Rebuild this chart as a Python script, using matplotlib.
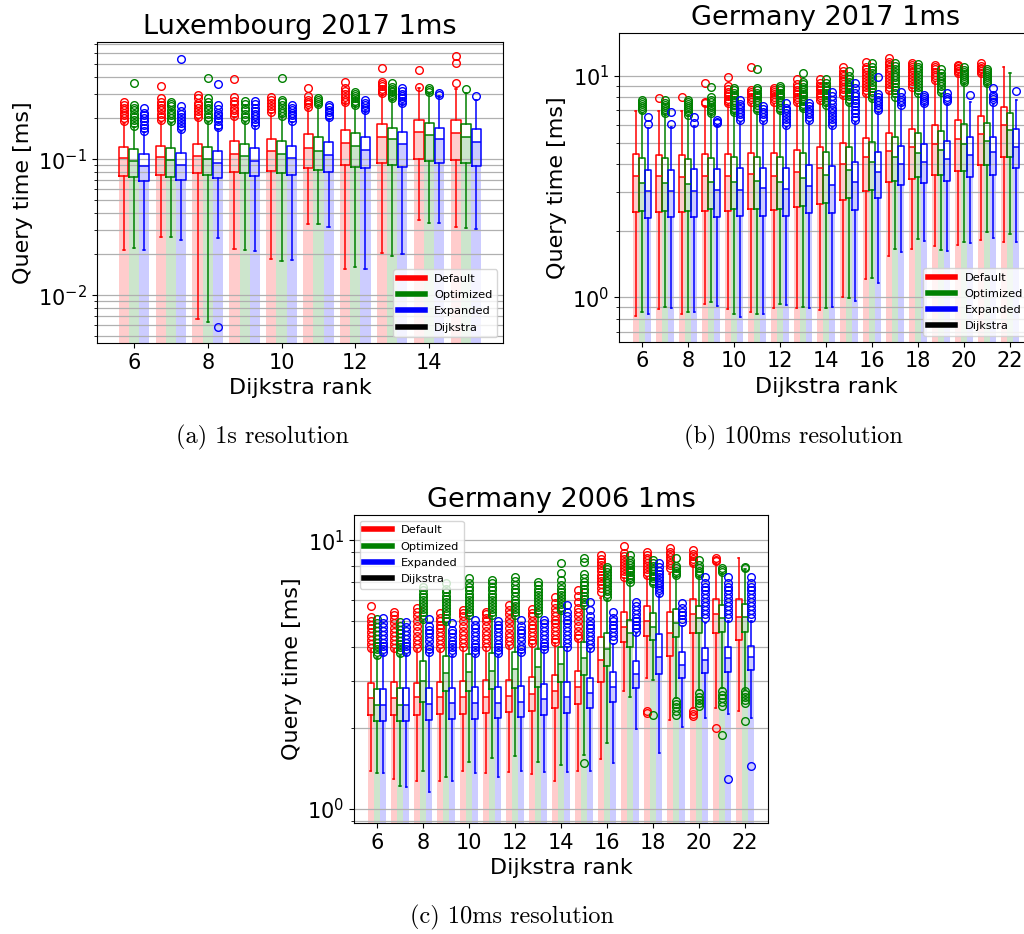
import matplotlib.pyplot as plt
from matplotlib.lines import Line2D
from matplotlib.ticker import NullFormatter

SERIES = ["Default", "Optimized", "Expanded", "Dijkstra"]
COLORS = ["red", "green", "blue", "black"]

# ---------------- Luxembourg 2017 1ms (ranks 6..15) ----------------
lux_ranks = list(range(6, 16))
# rows: Default, Optimized, Expanded
lux_lo = [
    [0.0215, 0.0267, 0.00665, 0.0218, 0.0184, 0.0334, 0.0156, 0.0206, 0.0358, 0.0320],
    [0.0224, 0.0266, 0.0064, 0.0215, 0.0179, 0.0334, 0.0161, 0.0195, 0.0338, 0.0314],
    [0.0215, 0.0255, 0.0262, 0.0211, 0.0182, 0.0320, 0.0156, 0.0201, 0.0338, 0.0305],
]
lux_q1 = [
    [0.0758, 0.0767, 0.0789, 0.0812, 0.0816, 0.0858, 0.0903, 0.0939, 0.1005, 0.0993],
    [0.0737, 0.0745, 0.0767, 0.0789, 0.0797, 0.0834, 0.0883, 0.0913, 0.0966, 0.0939],
    [0.0696, 0.0708, 0.0733, 0.0758, 0.0767, 0.0806, 0.0858, 0.0883, 0.0934, 0.0898],
]
lux_med = [
    [0.1016, 0.1034, 0.1051, 0.1094, 0.1144, 0.1204, 0.1318, 0.1467, 0.158, 0.155],
    [0.0972, 0.0983, 0.101, 0.1051, 0.1094, 0.115, 0.126, 0.140, 0.150, 0.146],
    [0.0898, 0.0913, 0.0934, 0.0977, 0.1022, 0.1075, 0.1177, 0.1296, 0.140, 0.135],
]
lux_q3 = [
    [0.124, 0.126, 0.130, 0.1355, 0.1418, 0.1527, 0.165, 0.181, 0.1945, 0.1945],
    [0.118, 0.1204, 0.124, 0.1288, 0.1355, 0.145, 0.157, 0.171, 0.184, 0.183],
    [0.1088, 0.1106, 0.1144, 0.1204, 0.1253, 0.134, 0.145, 0.159, 0.169, 0.166],
]
lux_hi = [
    [0.186, 0.189, 0.197, 0.2035, 0.220, 0.2357, 0.261, 0.297, 0.332, 0.327],
    [0.174, 0.184, 0.189, 0.189, 0.206, 0.245, 0.246, 0.275, 0.309, 0.305],
    [0.159, 0.162, 0.168, 0.176, 0.188, 0.197, 0.2265, 0.253, 0.292, 0.273],
]
lux_fliers = [
    [[0.19, 0.20, 0.21, 0.22, 0.23, 0.24, 0.25, 0.265],
     [0.195, 0.205, 0.215, 0.23, 0.24, 0.25, 0.265, 0.28, 0.346],
     [0.206, 0.215, 0.225, 0.24, 0.25, 0.26, 0.28, 0.297],
     [0.208, 0.22, 0.23, 0.24, 0.255, 0.27, 0.289, 0.387],
     [0.224, 0.235, 0.245, 0.26, 0.275, 0.289],
     [0.243, 0.255, 0.265, 0.275, 0.292, 0.336],
     [0.265, 0.275, 0.285, 0.30, 0.315, 0.332, 0.372],
     [0.306, 0.318, 0.33, 0.345, 0.355, 0.372, 0.467],
     [0.342, 0.453],
     [0.362, 0.508, 0.575]],
    [[0.176, 0.185, 0.195, 0.205, 0.215, 0.23, 0.24, 0.25, 0.362],
     [0.19, 0.20, 0.21, 0.22, 0.23, 0.245, 0.255, 0.265],
     [0.195, 0.205, 0.215, 0.23, 0.24, 0.25, 0.265, 0.28, 0.394],
     [0.195, 0.205, 0.215, 0.23, 0.24, 0.255, 0.268],
     [0.208, 0.218, 0.228, 0.24, 0.25, 0.262, 0.273, 0.398],
     [0.253, 0.265, 0.272, 0.28],
     [0.25, 0.26, 0.27, 0.28, 0.29, 0.30, 0.314],
     [0.28, 0.29, 0.30, 0.31, 0.32, 0.33, 0.34, 0.362],
     [0.314, 0.322, 0.332],
     [0.327]],
    [[0.162, 0.17, 0.18, 0.19, 0.20, 0.21, 0.22, 0.237],
     [0.166, 0.175, 0.185, 0.195, 0.205, 0.215, 0.225, 0.245, 0.543],
     [0.00581, 0.172, 0.18, 0.19, 0.20, 0.21, 0.22, 0.235, 0.25, 0.358],
     [0.179, 0.188, 0.197, 0.207, 0.217, 0.228, 0.24, 0.255, 0.268],
     [0.192, 0.20, 0.21, 0.22, 0.23, 0.24, 0.25],
     [0.2035, 0.212, 0.222, 0.232, 0.242, 0.25],
     [0.231, 0.24, 0.25, 0.26, 0.275],
     [0.258, 0.268, 0.28, 0.29, 0.30, 0.315, 0.332],
     [0.297, 0.306],
     [0.292]],
]

# ---------------- Germany 2017 1ms (ranks 6..22) ----------------
ger17_ranks = list(range(6, 23))
ger17_lo = [
    [0.826, 0.883, 0.841, 0.930, 0.883, 0.862, 0.892, 0.898, 0.877, 1.00, 1.21, 1.53, 1.66, 1.71, 1.72, 1.82, 1.77],
    [0.862, 0.901, 0.862, 0.956, 0.838, 0.838, 0.933, 0.907, 0.892, 0.993, 1.22, 1.65, 1.84, 1.64, 1.78, 1.97, 1.93],
    [0.838, 0.892, 0.856, 0.917, 0.818, 0.838, 0.920, 0.892, 0.901, 0.966, 1.16, 1.60, 1.80, 1.61, 1.75, 1.85, 1.78],
]
ger17_q1 = [
    [2.44, 2.44, 2.44, 2.46, 2.45, 2.50, 2.48, 2.55, 2.65, 2.74, 3.02, 3.31, 3.42, 3.56, 3.72, 3.98, 4.29],
    [2.46, 2.46, 2.46, 2.50, 2.50, 2.50, 2.50, 2.59, 2.68, 2.80, 3.05, 3.36, 3.48, 3.56, 3.73, 3.95, 4.32],
    [2.28, 2.30, 2.30, 2.31, 2.33, 2.33, 2.33, 2.40, 2.41, 2.47, 2.82, 3.22, 3.30, 3.34, 3.51, 3.58, 3.83],
]
ger17_med = [
    [3.55, 3.55, 3.51, 3.55, 3.55, 3.59, 3.55, 3.70, 3.83, 4.00, 4.31, 4.57, 4.76, 4.91, 5.17, 5.47, 6.01],
    [3.27, 3.30, 3.25, 3.32, 3.31, 3.37, 3.33, 3.47, 3.58, 3.76, 4.07, 4.32, 4.47, 4.63, 4.95, 5.10, 5.70],
    [3.01, 3.01, 3.01, 3.04, 3.04, 3.11, 3.08, 3.18, 3.22, 3.33, 3.70, 3.99, 4.10, 4.22, 4.41, 4.52, 4.79],
]
ger17_q3 = [
    [4.44, 4.40, 4.40, 4.44, 4.44, 4.51, 4.51, 4.63, 4.76, 4.96, 5.27, 5.51, 5.74, 6.01, 6.33, 6.60, 7.27],
    [4.25, 4.25, 4.20, 4.25, 4.29, 4.29, 4.32, 4.47, 4.55, 4.76, 5.03, 5.30, 5.51, 5.62, 6.07, 6.14, 6.78],
    [3.76, 3.76, 3.79, 3.80, 3.83, 3.85, 3.85, 3.95, 3.92, 4.10, 4.52, 4.81, 4.95, 5.09, 5.32, 5.32, 5.74],
]
ger17_hi = [
    [6.97, 6.97, 6.97, 7.3, 7.4, 7.5, 7.5, 7.5, 7.6, 8.0, 8.2, 8.4, 8.8, 9.4, 10.1, 10.1, 10.94],
    [6.8, 6.7, 6.6, 6.7, 6.8, 6.9, 6.9, 7.0, 7.3, 7.5, 7.8, 8.0, 8.3, 8.3, 9.2, 9.1, 10.35],
    [5.8, 5.9, 5.95, 6.0, 6.2, 6.2, 5.9, 6.2, 5.9, 6.2, 6.9, 7.3, 7.4, 7.4, 7.6, 7.5, 7.8],
]
ger17_fliers = [
    [[], [7.93], [8.07], [7.52, 7.66, 9.27],
     [7.52, 7.7, 7.9, 8.1, 8.3, 8.5, 8.7, 9.0, 9.86],
     [7.66, 7.85, 8.05, 8.25, 8.45, 8.6, 10.94],
     [7.66, 7.85, 8.05, 8.25, 8.45, 8.65, 8.8],
     [7.66, 7.85, 8.05, 8.25, 8.45, 8.65, 8.9, 9.2, 9.66],
     [7.79, 8.0, 8.2, 8.4, 8.6, 8.8, 9.0, 9.3, 9.66],
     [8.21, 8.45, 8.7, 8.95, 9.2, 9.45, 9.7, 9.95, 10.2, 10.5, 10.94],
     [8.35, 8.6, 8.9, 9.2, 9.5, 9.8, 10.1, 10.4, 10.7, 11.0, 11.61],
     [8.65, 8.9, 9.2, 9.5, 9.8, 10.1, 10.4, 10.7, 11.0, 11.3, 11.6, 12.10],
     [8.95, 9.2, 9.5, 9.8, 10.1, 10.4, 10.7, 11.0, 11.2, 11.41],
     [9.59, 9.85, 10.1, 10.4, 10.7, 10.95, 11.21],
     [10.28, 10.5, 10.7, 10.9, 11.05, 11.21],
     [10.28, 10.5, 10.7, 10.9, 11.1, 11.41],
     []],
    [[7.0, 7.15, 7.3, 7.45, 7.6, 7.8],
     [6.78, 6.95, 7.1, 7.25, 7.4, 7.55, 7.8],
     [6.67, 6.85, 7.0, 7.15, 7.3, 7.45, 7.6, 7.8],
     [6.78, 6.95, 7.1, 7.25, 7.4, 7.6, 7.8, 8.07, 8.9],
     [6.9, 7.05, 7.2, 7.4, 7.6, 7.8, 8.0, 8.2, 8.4, 8.6, 8.8],
     [7.02, 7.2, 7.4, 7.6, 7.8, 8.0, 8.2, 8.4, 8.6, 8.8, 10.72],
     [7.02, 7.2, 7.4, 7.6, 7.8, 8.0, 8.2, 8.4, 8.6, 8.8, 9.01],
     [7.14, 7.3, 7.5, 7.7, 7.9, 8.1, 8.3, 8.5, 8.7, 8.9, 9.2, 9.43, 10.28],
     [7.40, 7.6, 7.8, 8.0, 8.2, 8.4, 8.6, 8.8, 9.0, 9.3, 9.66],
     [7.66, 7.9, 8.1, 8.3, 8.5, 8.7, 8.9, 9.1, 9.4, 9.7, 10.0, 10.57],
     [7.93, 8.2, 8.5, 8.8, 9.1, 9.4, 9.7, 10.0, 10.3, 10.6, 11.0, 11.41],
     [8.07, 8.35, 8.65, 8.95, 9.25, 9.55, 9.85, 10.15, 10.45, 10.75, 11.05, 11.41],
     [8.35, 8.6, 8.9, 9.2, 9.5, 9.8, 10.1, 10.4, 10.7, 11.0, 11.3],
     [8.50, 8.75, 9.0, 9.25, 9.5, 9.75, 10.0, 10.3, 10.72],
     [9.4, 9.6, 9.8, 10.0, 10.2, 10.4, 10.6, 10.94],
     [9.3, 9.5, 9.7, 9.9, 10.1, 10.3, 10.5, 10.72],
     []],
    [[6.07, 6.55], [6.07, 6.9], [6.11, 6.51], [6.11, 6.22, 6.33],
     [6.33, 6.5, 6.7, 6.9, 7.1, 7.3, 7.5, 7.8],
     [6.33, 6.5, 6.7, 6.9, 7.1, 7.3],
     [6.01, 6.2, 6.4, 6.6, 6.8, 7.0, 7.2, 7.52],
     [6.33, 6.5, 6.7, 6.9, 7.1, 7.3, 7.52],
     [6.01, 6.2, 6.4, 6.6, 6.8, 7.0, 7.2, 7.5, 7.8, 8.1, 8.5],
     [6.33, 6.55, 6.8, 7.05, 7.3, 7.55, 7.8, 8.1, 8.4, 8.8, 9.27],
     [7.02, 7.2, 7.4, 7.6, 7.8, 8.05, 8.3, 9.93],
     [7.40, 7.6, 7.8, 8.0, 8.5],
     [7.52, 7.7, 7.9, 8.05, 8.21],
     [7.7, 7.85, 8.0, 8.35],
     [8.21],
     [7.66, 7.85, 8.05, 8.2, 8.80],
     [8.57]],
]

# ---------------- Germany 2006 1ms (ranks 6..22) ----------------
ger06_ranks = list(range(6, 23))
ger06_lo = [
    [1.38, 1.29, 1.27, 1.27, 1.38, 1.36, 1.37, 1.35, 1.27, 1.38, 1.54, 2.74, 3.06, 2.15, 2.37, 2.37, 2.32],
    [1.36, 1.22, 1.39, 1.32, 1.49, 1.55, 1.57, 1.50, 1.46, 1.59, 1.76, 2.62, 3.02, 2.58, 2.77, 2.81, 2.77],
    [1.36, 1.21, 1.16, 1.27, 1.36, 1.32, 1.38, 1.37, 1.37, 1.38, 1.48, 1.99, 1.61, 2.02, 2.18, 2.26, 2.18],
]
ger06_q1 = [
    [2.24, 2.24, 2.23, 2.25, 2.25, 2.27, 2.29, 2.32, 2.37, 2.46, 2.98, 4.19, 4.41, 3.72, 4.53, 4.53, 4.24],
    [2.13, 2.13, 2.51, 2.74, 2.75, 2.79, 2.83, 2.85, 2.98, 3.14, 3.41, 4.00, 4.25, 4.35, 4.53, 4.54, 4.57],
    [2.13, 2.13, 2.15, 2.16, 2.16, 2.18, 2.19, 2.23, 2.27, 2.37, 2.50, 2.83, 3.17, 3.06, 3.20, 3.23, 3.28],
]
ger06_med = [
    [2.58, 2.58, 2.60, 2.60, 2.60, 2.62, 2.64, 2.68, 2.75, 2.85, 3.57, 4.77, 5.00, 4.50, 5.33, 5.33, 5.16],
    [2.43, 2.43, 2.99, 3.20, 3.22, 3.26, 3.32, 3.37, 3.46, 3.64, 3.93, 4.50, 4.77, 4.90, 5.12, 5.15, 5.19],
    [2.44, 2.44, 2.45, 2.47, 2.48, 2.48, 2.51, 2.56, 2.61, 2.70, 2.85, 3.17, 3.69, 3.43, 3.58, 3.64, 3.67],
]
ger06_q3 = [
    [2.94, 2.96, 2.95, 2.98, 3.00, 3.02, 3.02, 3.09, 3.15, 3.26, 4.38, 5.39, 5.69, 5.42, 6.02, 6.04, 6.02],
    [2.79, 2.81, 3.55, 3.72, 3.76, 3.80, 3.85, 3.93, 4.02, 4.19, 4.50, 5.06, 5.34, 5.54, 5.70, 5.74, 5.77],
    [2.80, 2.81, 2.81, 2.81, 2.84, 2.84, 2.87, 2.92, 2.98, 3.06, 3.23, 3.55, 4.46, 3.85, 3.98, 4.02, 4.04],
]
ger06_hi = [
    [3.9, 3.9, 3.9, 3.9, 4.0, 4.0, 4.05, 4.1, 4.15, 4.25, 6.1, 7.2, 7.3, 7.5, 8.0, 8.2, 8.60],
    [3.65, 3.7, 5.0, 4.9, 5.2, 5.2, 5.2, 5.3, 5.4, 5.7, 6.0, 6.9, 6.8, 7.3, 7.3, 7.5, 7.8],
    [3.75, 3.75, 3.8, 3.7, 3.75, 3.75, 3.8, 3.9, 4.0, 3.92, 4.1, 4.5, 6.2, 4.8, 4.9, 5.0, 5.0],
]
ger06_fliers = [
    [[3.96, 4.1, 4.25, 4.4, 4.55, 4.7, 4.85, 5.0, 5.19, 5.70],
     [3.96, 4.1, 4.25, 4.4, 4.55, 4.7, 4.9, 5.1, 5.25, 5.39],
     [3.96, 4.1, 4.25, 4.4, 4.6, 4.8, 5.0, 5.2, 5.4, 5.58],
     [3.96, 4.1, 4.25, 4.4, 4.55, 4.7, 4.85, 5.0, 5.15, 5.34],
     [4.02, 4.15, 4.3, 4.45, 4.6, 4.8, 5.0, 5.2, 5.35, 5.50],
     [4.02, 4.15, 4.3, 4.45, 4.6, 4.8, 5.0, 5.15, 5.3, 5.42],
     [4.08, 4.2, 4.35, 4.5, 4.7, 4.9, 5.1, 5.3, 5.5, 5.74],
     [4.13, 4.25, 4.4, 4.55, 4.7, 4.85, 5.0, 5.2, 5.35, 5.53],
     [4.19, 4.3, 4.45, 4.6, 4.75, 4.9, 5.05, 5.2, 5.4, 5.6, 5.85, 6.16],
     [4.31, 4.45, 4.6, 4.8, 5.0, 5.2, 5.4, 5.6, 5.9, 6.2, 6.52],
     [6.43, 6.65, 6.85, 7.05, 7.25, 7.45, 7.65, 7.85, 8.05, 8.3, 8.5, 8.77],
     [7.31, 7.5, 7.7, 7.9, 8.1, 8.3, 8.5, 8.7, 8.92, 9.53],
     [2.27, 2.31, 7.41, 7.6, 7.8, 8.0, 8.2, 8.4, 8.6, 8.8, 9.05],
     [7.85, 8.05, 8.25, 8.45, 8.65, 8.85, 9.05, 9.31],
     [2.21, 2.26, 2.31, 8.19, 8.35, 8.5, 8.7, 8.9, 9.18],
     [2.01, 8.36, 8.45, 8.55],
     []],
    [[3.74, 3.85, 3.95, 4.05, 4.15, 4.3, 4.45, 4.6, 4.75, 4.9, 5.09],
     [3.80, 3.9, 4.0, 4.1, 4.2, 4.35, 4.5, 4.65, 4.8, 4.98],
     [5.09, 5.25, 5.4, 5.55, 5.7, 5.85, 6.0, 6.15, 6.3, 6.5, 6.71],
     [5.0, 5.15, 5.3, 5.45, 5.6, 5.75, 5.9, 6.05, 6.2, 6.4, 6.6, 6.91],
     [5.27, 5.4, 5.55, 5.7, 5.85, 6.0, 6.15, 6.3, 6.5, 6.7, 6.95, 7.21],
     [5.27, 5.4, 5.55, 5.7, 5.85, 6.0, 6.15, 6.3, 6.5, 6.7, 6.9, 7.10],
     [5.27, 5.4, 5.55, 5.7, 5.85, 6.0, 6.2, 6.4, 6.6, 6.8, 7.05, 7.31],
     [5.34, 5.5, 5.65, 5.8, 5.95, 6.1, 6.25, 6.4, 6.6, 6.8, 7.00],
     [5.50, 5.65, 5.8, 5.95, 6.1, 6.25, 6.4, 6.6, 6.8, 7.1, 7.52, 8.19],
     [1.48, 5.74, 5.9, 6.05, 6.2, 6.4, 6.6, 6.8, 7.0, 7.25, 7.5, 8.3, 8.60],
     [6.16, 6.3, 6.45, 6.6, 6.75, 6.9, 7.05, 7.2, 7.4, 7.6, 7.8, 7.96],
     [7.0, 7.15, 7.3, 7.45, 7.6, 7.75, 7.9, 8.05, 8.2, 8.4, 8.77],
     [2.23, 6.91, 7.05, 7.2, 7.35, 7.5, 7.65, 7.8, 8.0, 8.2, 8.43],
     [2.24, 2.32, 2.4, 2.46, 2.52, 7.41, 7.55, 7.7, 7.85, 8.0, 8.55],
     [2.41, 2.48, 2.55, 2.62, 2.70, 7.41, 7.55, 7.7, 7.85, 8.1, 8.43],
     [1.89, 2.42, 2.5, 2.58, 2.66, 2.74, 7.63, 7.75, 7.85],
     [2.12, 2.48, 2.55, 2.62, 2.68, 2.74, 7.85, 7.96]],
    [[3.83, 3.95, 4.05, 4.15, 4.3, 4.45, 4.6, 4.75, 4.9, 5.12],
     [3.83, 3.95, 4.05, 4.15, 4.3, 4.45, 4.6, 4.75, 4.98],
     [3.85, 3.95, 4.05, 4.2, 4.35, 4.5, 4.65, 4.8, 5.09],
     [3.80, 3.9, 4.0, 4.1, 4.2, 4.35, 4.5, 4.65, 4.90],
     [3.80, 3.9, 4.0, 4.1, 4.25, 4.4, 4.55, 4.7, 4.85, 5.05],
     [3.80, 3.9, 4.0, 4.1, 4.25, 4.4, 4.55, 4.7, 4.85, 5.00],
     [3.85, 3.95, 4.05, 4.2, 4.35, 4.5, 4.65, 4.8, 5.05],
     [3.93, 4.05, 4.15, 4.3, 4.45, 4.6, 4.75, 4.9, 5.05],
     [4.02, 4.15, 4.3, 4.45, 4.6, 4.75, 4.9, 5.05, 5.2, 5.4, 5.74],
     [3.96, 4.1, 4.25, 4.4, 4.55, 4.7, 4.85, 5.0, 5.2, 5.5, 5.87],
     [4.25, 4.4, 4.55, 4.7, 4.85, 5.0, 5.15, 5.42],
     [4.57, 4.7, 4.85, 5.0, 5.15, 5.3, 5.5, 5.7, 5.90],
     [6.34, 6.5, 6.65, 6.8, 6.95, 7.1, 7.3, 7.5, 7.7, 7.95, 8.19],
     [4.98, 5.1, 5.25, 5.4, 5.6, 5.82],
     [5.12, 5.3, 5.5, 5.7, 5.9, 6.1, 6.3, 6.5, 6.7, 6.95, 7.31],
     [1.29, 5.15, 5.3, 5.5, 5.7, 5.9, 6.1, 6.3, 6.5, 6.7, 6.95, 7.31],
     [1.45, 5.15, 5.3, 5.5, 5.7, 5.9, 6.1, 6.3, 6.5, 6.7, 6.95, 7.31]],
]

OFFSET = 0.275
LW = 1.1


def draw_panel(ax, ranks, lo, q1, med, q3, hi, fliers, title, ylim, xticks, legend_loc):
    ax.set_yscale("log")
    for s in range(3):
        c = COLORS[s]
        pos = [r + (s - 1) * OFFSET for r in ranks]
        # median bars in the background
        ax.bar(pos, med[s], width=OFFSET, color=c, alpha=0.2, linewidth=0, zorder=0.5)
        stats = []
        for i in range(len(ranks)):
            stats.append(dict(whislo=lo[s][i], q1=q1[s][i], med=med[s][i],
                              q3=q3[s][i], whishi=hi[s][i], fliers=fliers[s][i]))
        ax.bxp(stats, positions=pos, widths=0.25, capwidths=0.06, manage_ticks=False,
               boxprops=dict(color=c, lw=LW),
               medianprops=dict(color=c, lw=LW),
               whiskerprops=dict(color=c, lw=LW),
               capprops=dict(color=c, lw=LW),
               flierprops=dict(marker="o", markerfacecolor="none", markeredgecolor=c,
                               markersize=5.5, markeredgewidth=1.0))
    ax.set_xlim(5, ranks[-1] + 1)
    ax.set_ylim(*ylim)
    ax.set_xticks(xticks)
    ax.set_xticklabels([str(t) for t in xticks])
    ax.yaxis.set_minor_formatter(NullFormatter())
    ax.grid(True, which="both", axis="y", color="#b0b0b0", lw=0.9)
    ax.tick_params(labelsize=15)
    ax.set_xlabel("Dijkstra rank", fontsize=16)
    ax.set_ylabel("Query time [ms]", fontsize=16)
    ax.set_title(title, fontsize=19.5)
    handles = [Line2D([], [], color=c, lw=4) for c in COLORS]
    ax.legend(handles, SERIES, loc=legend_loc, fontsize=8.2, handlelength=2.4,
              labelspacing=0.55)


fig = plt.figure(figsize=(10.24, 9.34), dpi=100)

ax_a = fig.add_axes([0.0947, 0.6328, 0.3965, 0.3223])
draw_panel(ax_a, lux_ranks, lux_lo, lux_q1, lux_med, lux_q3, lux_hi, lux_fliers,
           "Luxembourg 2017 1ms", (0.00446, 0.729), list(range(6, 16, 2)), "lower right")

ax_b = fig.add_axes([0.6045, 0.6342, 0.4043, 0.3302])
draw_panel(ax_b, ger17_ranks, ger17_lo, ger17_q1, ger17_med, ger17_q3, ger17_hi, ger17_fliers,
           "Germany 2017 1ms", (0.63, 15.6), list(range(6, 23, 2)), "lower right")

ax_c = fig.add_axes([0.3457, 0.1188, 0.4043, 0.3298])
draw_panel(ax_c, ger06_ranks, ger06_lo, ger06_q1, ger06_med, ger06_q3, ger06_hi, ger06_fliers,
           "Germany 2006 1ms", (0.887, 12.4), list(range(6, 23, 2)), "upper left")

fig.text(0.256, 0.532, "(a) 1s resolution", family="cmr10", fontsize=17.5, ha="center", va="center")
fig.text(0.775, 0.532, "(b) 100ms resolution", family="cmr10", fontsize=17.5, ha="center", va="center")
fig.text(0.5, 0.018, "(c) 10ms resolution", family="cmr10", fontsize=17.5, ha="center", va="center")

fig.savefig("out.png", dpi=100)
